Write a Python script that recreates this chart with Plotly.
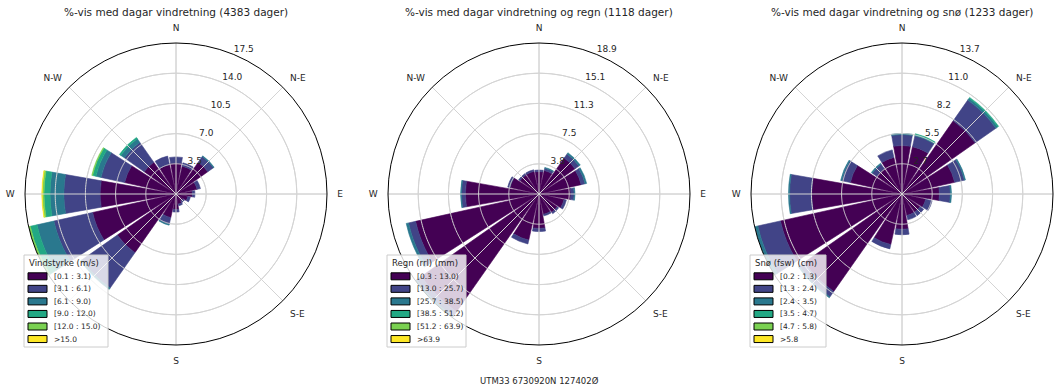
import numpy as np
import plotly.graph_objects as go

# ---------------- data ----------------
retningar = [0, 22.5, 45, 67.5, 90, 112.5, 135, 157.5, 180, 202.5, 225, 247.5, 270, 292.5, 315, 337.5]
kompass_vinklar = [0, 45, 90, 135, 180, 225, 270, 315]
# S-W is hidden under the legend; E of the last rose falls outside the picture
kompass_tekst = [
    ["N", "N-E", "E", "S-E", "S", "", "W", "N-W"],
    ["N", "N-E", "E", "S-E", "S", "", "W", "N-W"],
    ["N", "N-E", "", "S-E", "S", "", "W", "N-W"],
]

farger = ["#440154", "#414487", "#2a788e", "#22a884", "#7ad151", "#fde725"]

# Chart 1: wind speed classes (% of days) per direction (N, NNE, ... NNW)
vind_klasser = ["[0.1 : 3.1)", "[3.1 : 6.1)", "[6.1 : 9.0)", "[9.0 : 12.0)", "[12.0 : 15.0)", ">15.0"]
vind_pst = [
    [3.6, 3.3, 4.5, 2.5, 1.9, 1.4, 1.0, 1.2, 1.8, 2.8, 8.3, 9.9, 8.8, 6.1, 4.5, 3.5],
    [0.7, 0.4, 0.8, 0.4, 0.3, 0.3, 0.2, 0.2, 0.3, 0.8, 5.0, 4.6, 4.2, 2.8, 2.8, 1.0],
    [0.0, 0.0, 0.1, 0.0, 0.0, 0.0, 0.0, 0.0, 0.0, 0.1, 0.2, 2.0, 1.6, 0.6, 0.5, 0.0],
    [0.0, 0.0, 0.0, 0.0, 0.0, 0.0, 0.0, 0.0, 0.0, 0.0, 0.0, 0.8, 0.7, 0.4, 0.2, 0.0],
    [0.0, 0.0, 0.0, 0.0, 0.0, 0.0, 0.0, 0.0, 0.0, 0.0, 0.0, 0.2, 0.2, 0.1, 0.0, 0.0],
    [0.0, 0.0, 0.0, 0.0, 0.0, 0.0, 0.0, 0.0, 0.0, 0.0, 0.0, 0.0, 0.05, 0.0, 0.0, 0.0],
]

# Chart 2: rain classes
regn_klasser = ["[0.3 : 13.0)", "[13.0 : 25.7)", "[25.7 : 38.5)", "[38.5 : 51.2)", "[51.2 : 63.9)", ">63.9"]
regn_pst = [
    [2.8, 3.0, 5.5, 5.4, 4.0, 3.2, 2.8, 2.6, 4.3, 5.9, 17.97, 15.8, 9.2, 3.7, 2.9, 2.9],
    [0.2, 0.3, 0.6, 0.5, 0.4, 0.3, 0.2, 0.2, 0.4, 0.5, 0.7, 0.9, 0.5, 0.3, 0.2, 0.2],
    [0.0, 0.1, 0.2, 0.2, 0.1, 0.0, 0.0, 0.0, 0.0, 0.0, 0.2, 0.3, 0.1, 0.0, 0.0, 0.0],
    [0.0] * 16,
    [0.0] * 16,
    [0.0] * 16,
]

# Chart 3: snow classes
sno_klasser = ["[0.2 : 1.3)", "[1.3 : 2.4)", "[2.4 : 3.5)", "[3.5 : 4.7)", "[4.7 : 5.8)", ">5.8"]
sno_pst = [
    [4.4, 4.4, 8.1, 4.9, 3.4, 2.2, 2.0, 2.0, 3.2, 4.7, 10.8, 11.3, 8.2, 4.8, 2.8, 3.4],
    [1.0, 1.0, 2.3, 0.9, 1.0, 0.6, 0.4, 0.4, 0.5, 0.4, 0.6, 2.1, 2.0, 0.8, 0.5, 0.7],
    [0.1, 0.1, 0.2, 0.1, 0.1, 0.0, 0.0, 0.0, 0.0, 0.0, 0.1, 0.3, 0.1, 0.1, 0.1, 0.0],
    [0.0, 0.1, 0.1, 0.0, 0.0, 0.0, 0.0, 0.0, 0.0, 0.0, 0.0, 0.0, 0.0, 0.0, 0.0, 0.0],
    [0.0] * 16,
    [0.0] * 16,
]

titlar = [
    "%-vis med dagar vindretning (4383 dager)",
    "%-vis med dagar vindretning og regn (1118 dager)",
    "%-vis med dagar vindretning og snø (1233 dager)",
]
legend_titlar = ["Vindstyrke (m/s)", "Regn (rrl) (mm)", "Snø (fsw) (cm)"]
klasser = [vind_klasser, regn_klasser, sno_klasser]
data = [vind_pst, regn_pst, sno_pst]
fotnote = "UTM33 6730920N 127402Ø"

# ---------------- layout geometry (pixels) ----------------
W, H = 1060, 390
sentrar = [176, 539, 902]
cy = 194
R = 151
legend_bredd = [84, 79, 76]

FONT = "DejaVu Sans"
TXT = "#262626"
GRID = "#d4d4d4"

fig = go.Figure()
shapes = []
annotations = []

def px(x):
    return x / W

def py(y):
    return 1 - y / H

for i in range(3):
    pol = "polar" if i == 0 else f"polar{i+1}"
    sub = pol
    tabell = np.array(data[i])
    rmax = round(float(tabell.sum(axis=0).max()), 2)
    rticks = np.linspace(0, rmax, 6)[1:]

    # radial tick labels (drawn first so bars overlay them)
    fig.add_trace(go.Scatterpolar(
        r=list(rticks), theta=[22.5] * len(rticks), mode="text",
        text=[f"{v:.1f}" for v in rticks], textposition="top right",
        textfont=dict(family=FONT, size=9, color=TXT),
        showlegend=False, hoverinfo="skip", subplot=sub,
    ))
    for k in range(6):
        fig.add_trace(go.Barpolar(
            r=list(tabell[k]), theta=retningar, width=[20] * 16,
            marker=dict(color=farger[k], line=dict(width=0.6, color=farger[k])),
            name=klasser[i][k], showlegend=False, subplot=sub,
        ))

    # grid drawn on top of the bars (as in the reference)
    sirkel = np.linspace(0, 360, 361)
    for rv in rticks[:-1]:
        fig.add_trace(go.Scatterpolar(
            r=[rv] * len(sirkel), theta=sirkel, mode="lines",
            line=dict(color=GRID, width=1), showlegend=False,
            hoverinfo="skip", subplot=sub,
        ))
    for a in kompass_vinklar:
        fig.add_trace(go.Scatterpolar(
            r=[0, rmax], theta=[a, a], mode="lines",
            line=dict(color=GRID, width=1), showlegend=False,
            hoverinfo="skip", subplot=sub,
        ))

    cx = sentrar[i]
    fig.update_layout(**{pol: dict(
        domain=dict(x=[px(cx - R), px(cx + R)], y=[py(cy + R), py(cy - R)]),
        bgcolor="white",
        barmode="stack",
        angularaxis=dict(
            rotation=90, direction="clockwise",
            tickmode="array", tickvals=kompass_vinklar, ticktext=kompass_tekst[i],
            showline=True, linecolor="black", linewidth=1,
            showgrid=True, gridcolor=GRID, gridwidth=1,
            ticks="outside", ticklen=8, tickcolor="rgba(0,0,0,0)",
            tickfont=dict(family=FONT, size=9, color=TXT),
            layer="above traces",
        ),
        radialaxis=dict(
            range=[0, rmax], tickmode="array", tickvals=list(rticks),
            showticklabels=False, showline=False, ticks="",
            showgrid=True, gridcolor=GRID, gridwidth=1,
            layer="above traces",
        ),
    )})

    # title
    annotations.append(dict(
        text=titlar[i], x=px(cx), y=py(12), xref="paper", yref="paper",
        xanchor="center", yanchor="middle", showarrow=False,
        font=dict(family=FONT, size=10.5, color=TXT),
    ))

    # legend box
    lx0 = cx - 152
    shapes.append(dict(
        type="rect", xref="paper", yref="paper",
        x0=px(lx0), x1=px(lx0 + legend_bredd[i]), y0=py(347), y1=py(255),
        fillcolor="rgba(255,255,255,0.8)", line=dict(color="#cccccc", width=1),
        layer="above",
    ))
    annotations.append(dict(
        text=legend_titlar[i], x=px(lx0 + 3), y=py(263), xref="paper", yref="paper",
        xanchor="left", yanchor="middle", showarrow=False,
        font=dict(family=FONT, size=8.5, color=TXT),
    ))
    for k in range(6):
        yc = 276.3 + k * 12.55
        shapes.append(dict(
            type="rect", xref="paper", yref="paper",
            x0=px(lx0 + 4), x1=px(lx0 + 23), y0=py(yc + 3.5), y1=py(yc - 3.5),
            fillcolor=farger[k], line=dict(color="black", width=1), layer="above",
        ))
        annotations.append(dict(
            text=klasser[i][k], x=px(lx0 + 28), y=py(yc), xref="paper", yref="paper",
            xanchor="left", yanchor="middle", showarrow=False,
            font=dict(family=FONT, size=7.5, color=TXT),
        ))

annotations.append(dict(
    text=fotnote, x=px(539), y=py(381), xref="paper", yref="paper",
    xanchor="center", yanchor="middle", showarrow=False,
    font=dict(family=FONT, size=8.5, color=TXT),
))

fig.update_layout(
    width=W, height=H, margin=dict(l=0, r=0, t=0, b=0),
    paper_bgcolor="white", plot_bgcolor="white",
    showlegend=False, shapes=shapes, annotations=annotations,
    font=dict(family=FONT, color=TXT),
)

fig.write_html("out.html")
